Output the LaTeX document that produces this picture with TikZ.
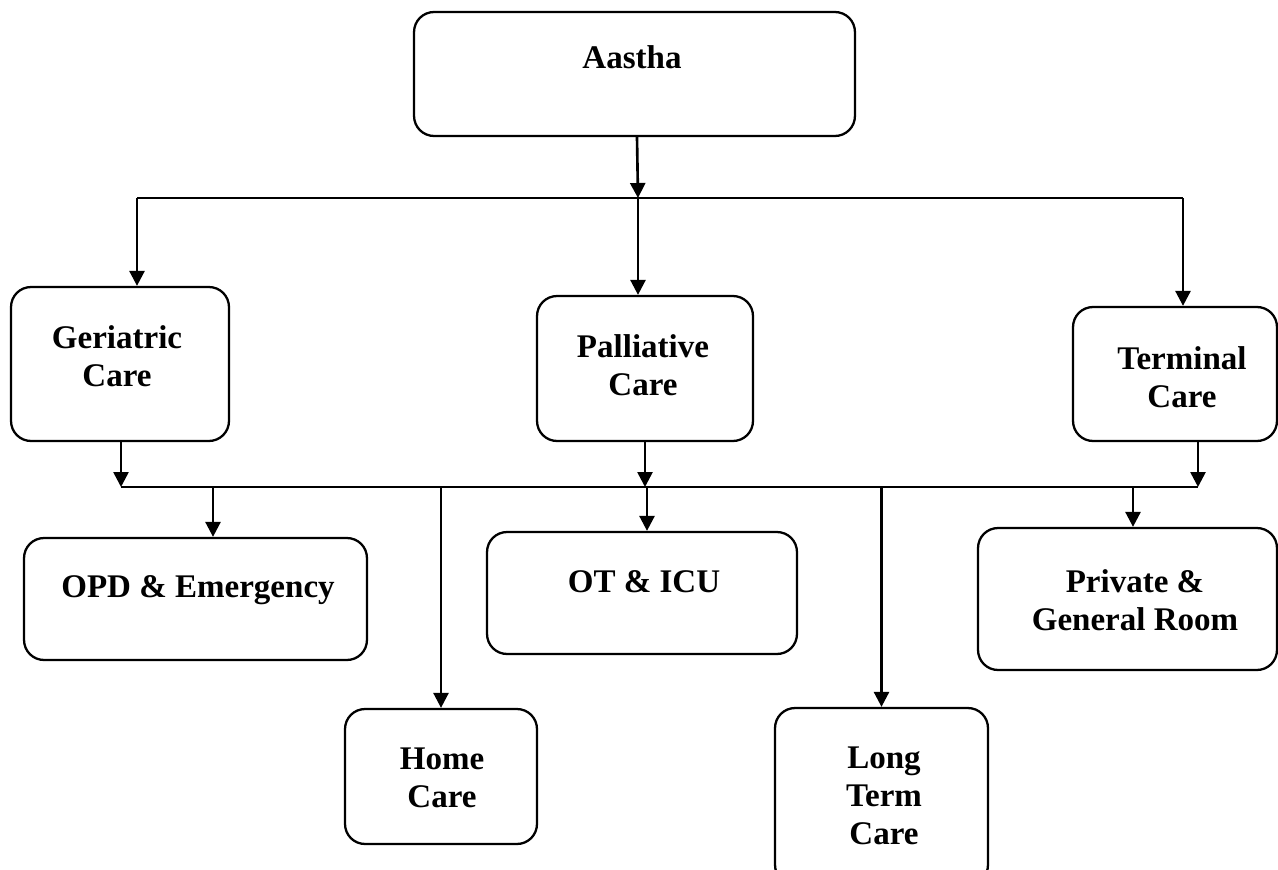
\documentclass[tikz,border=0pt]{standalone}
\usepackage{fontspec}
\setmainfont{Liberation Serif}
\usetikzlibrary{arrows.meta,calc}
\tikzset{>={Triangle[length=0.3cm,width=0.3cm]}}
\tikzset{box/.style={draw, rounded corners=0.4cm, line width=1.3pt, inner sep=0pt},
  lbl/.style={font=\fontsize{18.8}{21.5}\selectfont\bfseries, align=center},
  link/.style={line width=1.5pt}}

\begin{document}
\begin{tikzpicture}[x=0.02cm,y=-0.02cm]
  \useasboundingbox (0,0) rectangle (1278,869);
  \clip (0,0) rectangle (1278,869);
  % boxes
  \node[box,minimum width=8.82cm,minimum height=2.48cm] (aastha) at (634.5,74) {};
  \node[box,minimum width=4.36cm,minimum height=3.08cm] (ger) at (120,364) {};
  \node[box,minimum width=4.32cm,minimum height=2.9cm] (pal) at (645,368.5) {};
  \node[box,minimum width=4.08cm,minimum height=2.68cm] (ter) at (1175,374) {};
  \node[box,minimum width=6.86cm,minimum height=2.44cm] (opd) at (195.5,599) {};
  \node[box,minimum width=6.2cm,minimum height=2.44cm] (ot) at (642,593) {};
  \node[box,minimum width=5.98cm,minimum height=2.84cm] (pri) at (1127.5,599) {};
  \node[box,minimum width=3.84cm,minimum height=2.7cm] (home) at (441,776.5) {};
  \node[box,minimum width=4.26cm,minimum height=3.54cm] (long) at (881.5,796.5) {};
  % texts
  \node[lbl] (aastha-t) at (632,57) {Aastha};
  \node[lbl] (ger-t) at (117,356) {Geriatric\\Care};
  \node[lbl] (pal-t) at (643,365) {Palliative\\Care};
  \node[lbl] (ter-t) at (1182,377) {Terminal\\Care};
  \node[lbl] (opd-t) at (198,590) {OPD \& Emergency};
  \node[lbl] (ot-t) at (644,582) {OT \& ICU};
  \node[lbl] (pri-t) at (1135,600) {Private \&\\General Room};
  \node[lbl] (home-t) at (442,778) {Home\\Care};
  \node[lbl] (long-t) at (884,796) {Long\\Term\\Care};
  % bus points
  \coordinate (hub) at (638,198);
  \coordinate (topL) at (137,198);
  \coordinate (topR) at (1183,198);
  \coordinate (lowL) at (121,487);
  \coordinate (lowR) at (1198,487);
  \coordinate (dOpd) at (213,487);
  \coordinate (dOt) at (647,487);
  \coordinate (dPri) at (1133,487);
  % upper level
  \draw[link,->] ([xshift=0.05cm]aastha.south) -- (hub);
  \draw[link] (topL) -- (topR);
  \draw[link,->] (topL) -- (topL |- ger.north);
  \draw[link,->] (hub) -- (hub |- pal.north);
  \draw[link,->] (topR) -- (topR |- ter.north);
  % lower level
  \draw[link,->] (ger.south -| lowL) -- (lowL);
  \draw[link,->] (pal.south) -- (pal.south |- lowL);
  \draw[link,->] (ter.south -| lowR) -- (lowR);
  \draw[link] (lowL) -- (lowR);
  \draw[link,->] (dOpd) -- (dOpd |- opd.north);
  \draw[link,->] (home.north |- lowL) -- (home.north);
  \draw[link,->] (dOt) -- (dOt |- ot.north);
  \draw[link,->] (long.north |- lowL) -- (long.north);
  \draw[link,->] (dPri) -- (dPri |- pri.north);
\end{tikzpicture}
\end{document}
